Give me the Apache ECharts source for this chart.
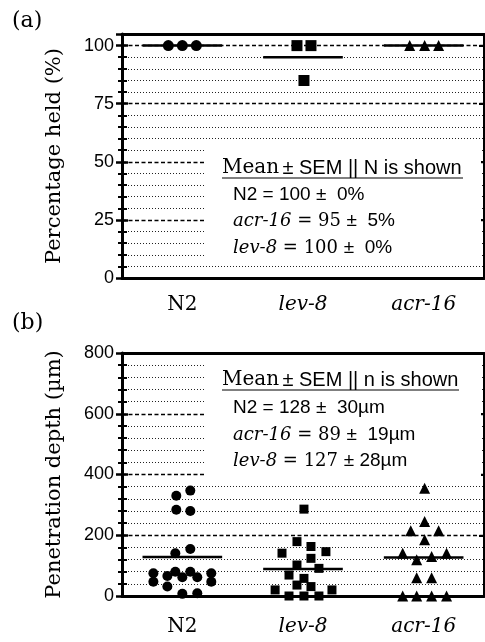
<!DOCTYPE html>
<html>
<head>
<meta charset="utf-8">
<script src="https://cdn.jsdelivr.net/npm/echarts@6/dist/echarts.min.js"></script>
<style>
  html, body { margin: 0; padding: 0; background: #fff; }
  #main { width: 485px; height: 642px; }
</style>
</head>
<body>
<div id="main"></div>
<script>
// groups on the x axis
var groups = ['N2', 'lev-8', 'acr-16'];

// (a) percentage held, values and horizontal jitter (fraction of a category)
var heldN2 = [100, 100, 100];
var heldN2X = [-0.116, 0, 0.116];
var heldLev8 = [100, 100, 85];
var heldLev8X = [-0.05, 0.066, 0.008];
var heldAcr16 = [100, 100, 100];
var heldAcr16X = [-0.116, 0.008, 0.124];
var heldMean = [100, 95, 100];
var heldTicks = { min: 0, max: 105, interval: 25 };

// (b) penetration depth (um)
var depthN2 = [330, 347, 284, 280, 155, 141, 75, 47, 66, 31, 80, 62, 80, 62, 75, 47, 7, 9];
var depthN2X = [-0.05, 0.066, -0.05, 0.066, 0.066, -0.058, -0.24, -0.24, -0.124, -0.124, -0.058, 0, 0.066, 0.124, 0.24, 0.24, 0, 0.124];
var depthLev8 = [286, 179, 141, 163, 146, 124, 102, 91, 69, 58, 36, 31, 20, 20, 0, 0, 0];
var depthLev8X = [0.008, -0.05, -0.174, 0.066, 0.19, 0.066, -0.05, 0.132, -0.116, 0.008, -0.05, 0.066, -0.231, 0.24, -0.116, 0.008, 0.132];
var depthAcr16 = [355, 245, 215, 215, 185, 141, 141, 119, 130, 60, 60, 0, 0, 0, 0];
var depthAcr16X = [0.008, 0.008, -0.107, 0.124, 0.008, -0.174, 0.19, -0.058, 0.066, -0.058, 0.066, -0.174, -0.058, 0.066, 0.19];
var depthMean = [128, 89, 127];
var depthTicks = { min: 0, max: 800, interval: 200 };

var serif = 'DejaVu Serif';
var sans = 'Liberation Sans';

function pts(gi, vals, dx) {
    return vals.map(function (v, i) { return [gi + 0.5 + dx[i], v]; });
}
function meanLine(gi, m) {
    return [[gi + 0.5 - 0.33, m], [gi + 0.5 + 0.33, m]];
}

var grids = [
    { left: 122, right: 1, top: 34, height: 244 },
    { left: 122, right: 1, top: 353, height: 243 }
];

function xAxes(g, labelMargin) {
    return [
        {
            type: 'category', gridIndex: g, data: groups, position: 'bottom',
            axisLine: { onZero: false, lineStyle: { color: '#000', width: 3 } },
            axisTick: { alignWithLabel: true, length: 8, lineStyle: { color: '#000', width: 2.5 } },
            axisLabel: {
                interval: 0, margin: labelMargin, fontFamily: serif, fontSize: 20, color: '#000',
                formatter: function (v) { return v === 'N2' ? v : '{i|' + v + '}'; },
                rich: { i: { fontFamily: serif, fontStyle: 'italic', fontSize: 20, color: '#000' } }
            }
        },
        {
            type: 'category', gridIndex: g, data: groups, position: 'top',
            axisLine: { onZero: false, lineStyle: { color: '#000', width: 3 } },
            axisTick: { alignWithLabel: true, inside: true, length: 10, lineStyle: { color: '#000', width: 2.5 } },
            axisLabel: { show: false }
        },
        { type: 'value', gridIndex: g, min: 0, max: 3, show: false }
    ];
}

function yAxes(g, t, name) {
    return [
        {
            type: 'value', gridIndex: g, min: t.min, max: t.max, interval: t.interval,
            position: 'left', name: name, nameLocation: 'middle', nameGap: 57,
            nameTextStyle: { fontFamily: serif, fontSize: 21, color: '#000' },
            axisLine: { show: true, onZero: false, lineStyle: { color: '#000', width: 3 } },
            axisTick: { show: true, length: 6, lineStyle: { color: '#000', width: 2.5 } },
            minorTick: { show: true, splitNumber: 5, length: 4, lineStyle: { color: '#000', width: 2 } },
            axisLabel: { margin: 8, fontFamily: sans, fontSize: 18, color: '#000', showMaxLabel: t.max % t.interval === 0 },
            splitLine: { show: true, lineStyle: { color: '#000', width: 1.4, type: [4, 2.5] } },
            minorSplitLine: { show: true, lineStyle: { color: '#222', width: 1, type: [1, 2] } }
        },
        {
            type: 'value', gridIndex: g, min: t.min, max: t.max, interval: t.interval,
            position: 'left',
            axisLine: { show: false, onZero: false },
            axisTick: { show: true, inside: true, length: 6, lineStyle: { color: '#000', width: 2.5 } },
            minorTick: { show: true, splitNumber: 5, length: 5, lineStyle: { color: '#000', width: 2 } },
            axisLabel: { show: false },
            splitLine: { show: false }
        },
        {
            type: 'value', gridIndex: g, min: t.min, max: t.max, interval: t.interval,
            position: 'right',
            axisLine: { show: true, onZero: false, lineStyle: { color: '#000', width: 2 } },
            axisTick: { show: true, inside: true, length: 5, lineStyle: { color: '#000', width: 2 } },
            axisLabel: { show: false },
            splitLine: { show: false }
        }
    ];
}

function scatter(xi, yi, data, symbol, size) {
    return {
        type: 'scatter', xAxisIndex: xi, yAxisIndex: yi, data: data,
        symbol: symbol, symbolSize: size, itemStyle: { color: '#000', opacity: 1 }, z: 4
    };
}
function mean(xi, yi, data) {
    return {
        type: 'line', xAxisIndex: xi, yAxisIndex: yi, data: data, symbol: 'none',
        lineStyle: { color: '#000', width: 2.5 }, z: 3
    };
}

var series = [
    scatter(2, 0, pts(0, heldN2, heldN2X), 'circle', 11),
    scatter(2, 0, pts(1, heldLev8, heldLev8X), 'rect', 11),
    scatter(2, 0, pts(2, heldAcr16, heldAcr16X), 'triangle', 11),
    scatter(5, 3, pts(0, depthN2, depthN2X), 'circle', 10),
    scatter(5, 3, pts(1, depthLev8, depthLev8X), 'rect', 9),
    scatter(5, 3, pts(2, depthAcr16, depthAcr16X), 'triangle', 11)
];
for (var i = 0; i < groups.length; i++) {
    series.push(mean(2, 0, meanLine(i, heldMean[i])));
    series.push(mean(5, 3, meanLine(i, depthMean[i])));
}

var rich = {
    s: { fontFamily: serif, fontSize: 18, color: '#000' },
    i: { fontFamily: serif, fontStyle: 'italic', fontSize: 18, color: '#000' },
    n: { fontFamily: sans, fontSize: 19, color: '#000' },
    t: { fontFamily: sans, fontSize: 20, color: '#000' },
    ts: { fontFamily: serif, fontSize: 20, color: '#000' }
};
function txt(x, y, text) {
    return { type: 'text', x: x, y: y, z: 20, style: { text: text, rich: rich, verticalAlign: 'middle', fill: '#000' } };
}

var graphics = [
    { type: 'text', x: 12, y: 21, style: { text: '(a)', font: '22px "DejaVu Serif"', fill: '#000', verticalAlign: 'middle' } },
    { type: 'text', x: 12, y: 323, style: { text: '(b)', font: '22px "DejaVu Serif"', fill: '#000', verticalAlign: 'middle' } },
    { type: 'rect', z: 10, shape: { x: 205, y: 144, width: 276, height: 119 }, style: { fill: '#fff' } },
    txt(222, 168, '{ts|Mean} {t|± SEM || N is shown}'),
    { type: 'line', z: 20, shape: { x1: 222, y1: 178, x2: 463, y2: 178 }, style: { stroke: '#000', lineWidth: 1.2 } },
    txt(233, 195, '{n|N2 = 100 ±  0%}'),
    txt(233, 221, '{i|acr-16}{s| = 95 }{n|±  5%}'),
    txt(233, 248, '{i|lev-8}{s| = 100 }{n|±  0%}'),
    { type: 'rect', z: 10, shape: { x: 205, y: 355, width: 276, height: 125 }, style: { fill: '#fff' } },
    txt(222, 380, '{ts|Mean} {t|± SEM || n is shown}'),
    { type: 'line', z: 20, shape: { x1: 222, y1: 390, x2: 459, y2: 390 }, style: { stroke: '#000', lineWidth: 1.2 } },
    txt(233, 408, '{n|N2 = 128 ±  30µm}'),
    txt(233, 435, '{i|acr-16}{s| = 89 }{n|±  19µm}'),
    txt(233, 461, '{i|lev-8}{s| = 127 }{n|± 28µm}')
];

var myChart = echarts.init(document.getElementById('main'));
myChart.setOption({
    animation: false,
    backgroundColor: '#fff',
    grid: grids,
    xAxis: xAxes(0, 17).concat(xAxes(1, 21)),
    yAxis: yAxes(0, heldTicks, 'Percentage held (%)').concat(yAxes(1, depthTicks, 'Penetration depth (µm)')),
    series: series,
    graphic: graphics
});
</script>
</body>
</html>
